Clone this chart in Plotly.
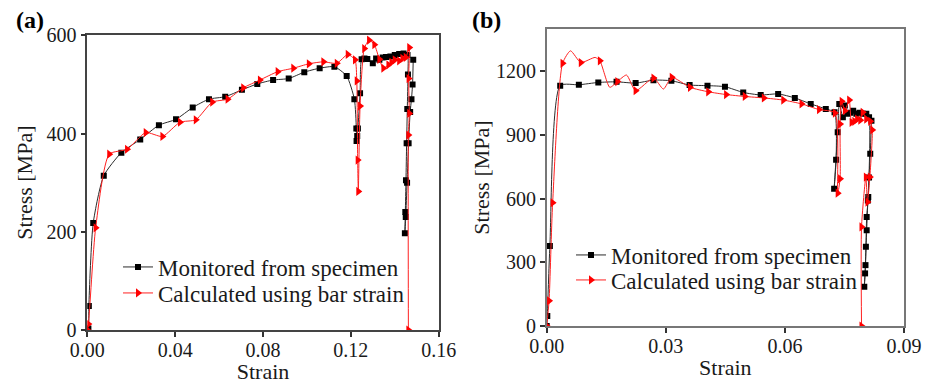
import plotly.graph_objects as go

# ---------------- Panel (a) ----------------
mon_a_x = [0.0000, 0.0005, 0.0007, 0.0027, 0.0075, 0.0155, 0.0241, 0.0326, 0.0404, 0.0480,
           0.0554, 0.0628, 0.0704, 0.0774, 0.0846, 0.0917, 0.0988, 0.1058, 0.1125, 0.1181,
           0.1216, 0.1225, 0.1226, 0.1229, 0.1232, 0.1242, 0.1249, 0.1262, 0.1275, 0.1300,
           0.1315, 0.1330, 0.1345, 0.1360, 0.1380, 0.1400, 0.1420, 0.1440, 0.1458, 0.1460,
           0.1457, 0.1454, 0.1451, 0.1448, 0.1446, 0.1450, 0.1456, 0.1463, 0.1470, 0.1476,
           0.1481, 0.1484]
mon_a_y = [0, 3, 49, 218, 314, 361, 388, 417, 429, 453,
           470, 475, 489, 501, 509, 512, 525, 533, 536, 517,
           470, 410, 385, 395, 410, 482, 551, 553, 552, 543,
           553, 550, 555, 556, 557, 560, 562, 563, 560, 520,
           450, 380, 305, 240, 197, 230, 300, 380, 444, 470,
           500, 550]

calc_a_x = [0.0000, 0.0005, 0.0038, 0.0100, 0.0181, 0.0266, 0.0342, 0.0422, 0.0494, 0.0569,
            0.0639, 0.0710, 0.0786, 0.0867, 0.0938, 0.1009, 0.1075, 0.1136, 0.1186, 0.1219,
            0.1227, 0.1231, 0.1234, 0.1242, 0.1261, 0.1283, 0.1307, 0.1330, 0.1348, 0.1371,
            0.1385, 0.1400, 0.1420, 0.1435, 0.1450, 0.1466, 0.1463, 0.1466, 0.1462, 0.1462]
calc_a_y = [0, 12, 208, 358, 368, 402, 394, 423, 428, 464,
            470, 493, 509, 526, 533, 542, 546, 543, 561, 550,
            507, 346, 282, 456, 573, 590, 581, 551, 533, 540,
            545, 550, 548, 553, 555, 575, 512, 441, 397, 0]

# ---------------- Panel (b) ----------------
mon_b_x = [0.0000, 0.00015, 0.0008, 0.0034, 0.0081, 0.0130, 0.0176, 0.0224, 0.0269, 0.0314,
           0.0360, 0.0405, 0.0449, 0.0495, 0.0539, 0.0583, 0.0625, 0.0665, 0.0703, 0.0725,
           0.0729, 0.0724, 0.0733, 0.0737, 0.0746, 0.0751, 0.0758, 0.0765, 0.0772, 0.0780,
           0.0788, 0.0797, 0.0805, 0.0812, 0.0810, 0.0806, 0.0804, 0.0802, 0.0800, 0.0803,
           0.0806, 0.0809, 0.0812, 0.0815, 0.0818]
mon_b_y = [0, 47, 377, 1133, 1137, 1148, 1151, 1145, 1159, 1156,
           1136, 1133, 1128, 1101, 1089, 1094, 1075, 1047, 1023, 1007,
           784, 647, 913, 1047, 984, 1039, 1000, 1005, 1015, 1000,
           1005, 1000, 1000, 984, 608, 514, 373, 248, 185, 287,
           451, 592, 700, 812, 968]

# marked points of the calculated curve (b)
calc_b_x = [0.0000, 0.0006, 0.0015, 0.0040, 0.0086, 0.0134, 0.0178, 0.0224, 0.0269, 0.0315,
            0.0361, 0.0407, 0.0452, 0.0499, 0.0547, 0.0596, 0.0642, 0.0686, 0.0726, 0.0733,
            0.0739, 0.0739, 0.0743, 0.0751, 0.0762, 0.0768, 0.0775, 0.0782, 0.0790, 0.0796,
            0.0805, 0.0815, 0.0820, 0.0814, 0.0808, 0.0804, 0.0793, 0.0793]
calc_b_y = [0, 119, 581, 1238, 1242, 1250, 1152, 1109, 1169, 1172,
            1125, 1104, 1091, 1082, 1075, 1065, 1047, 1020, 1004, 626,
            694, 952, 1059, 1015, 1065, 960, 965, 975, 970, 1007,
            975, 965, 924, 702, 584, 702, 467, 0]
# full traced path of the calculated curve (b), including unmarked oscillation peaks
calc_b_path_x = [0.0000, 0.0006, 0.0015, 0.0040, 0.0060, 0.0086, 0.0122, 0.0134, 0.0159, 0.0178,
                 0.0201, 0.0224, 0.0269, 0.0294, 0.0315, 0.0361, 0.0407, 0.0452, 0.0499, 0.0547,
                 0.0596, 0.0642, 0.0686, 0.0726, 0.0733, 0.0739, 0.0739, 0.0743, 0.0751, 0.0762,
                 0.0768, 0.0775, 0.0782, 0.0790, 0.0796, 0.0805, 0.0815, 0.0820, 0.0814, 0.0808,
                 0.0804, 0.0793, 0.0793]
calc_b_path_y = [0, 119, 581, 1238, 1297, 1242, 1266, 1250, 1125, 1152,
                 1183, 1109, 1169, 1117, 1172, 1125, 1104, 1091, 1082, 1075,
                 1065, 1047, 1020, 1004, 626, 694, 952, 1059, 1015, 1065,
                 960, 965, 975, 970, 1007, 975, 965, 924, 702, 584,
                 702, 467, 0]

labels = ["Monitored from specimen", "Calculated using bar strain"]
xticks_a = [0.00, 0.04, 0.08, 0.12, 0.16]
yticks_a = [0, 200, 400, 600]
xticks_b = [0.00, 0.03, 0.06, 0.09]
yticks_b = [0, 300, 600, 900, 1200]

FONT = "Liberation Serif"
OFF = 8                      # page body margin
W, H = 934 - OFF, 384 - OFF


def px(x):
    return (x - OFF) / W


def py(y):
    return 1 - (y - OFF) / H


BLACK_LINE = dict(color="#2b2b2b", width=1, shape="spline", smoothing=0.6)
BLACK_MARK = dict(symbol="square", size=6, color="black")
RED_LINE = dict(color="#ff2020", width=1, shape="spline", smoothing=0.6)
RED_MARK = dict(symbol="triangle-right", size=8, color="#ff0000")

fig = go.Figure()


def add_series(lx, ly, mx, my, xa, ya, line, mark, name, leg):
    fig.add_trace(go.Scatter(x=lx, y=ly, mode="lines", xaxis=xa, yaxis=ya,
                             line=line, showlegend=False, hoverinfo="skip"))
    fig.add_trace(go.Scatter(x=mx, y=my, mode="markers", xaxis=xa, yaxis=ya,
                             marker=mark, showlegend=False))
    # legend entry (line + marker sample)
    fig.add_trace(go.Scatter(x=[None], y=[None], mode="lines+markers", name=name,
                             xaxis=xa, yaxis=ya, line=line, marker=mark,
                             legend=leg, showlegend=True))


add_series(mon_a_x, mon_a_y, mon_a_x, mon_a_y, "x", "y", BLACK_LINE, BLACK_MARK, labels[0], "legend")
add_series(calc_a_x, calc_a_y, calc_a_x, calc_a_y, "x", "y", RED_LINE, RED_MARK, labels[1], "legend2")
add_series(mon_b_x, mon_b_y, mon_b_x, mon_b_y, "x2", "y2", BLACK_LINE, BLACK_MARK, labels[0], "legend3")
add_series(calc_b_path_x, calc_b_path_y, calc_b_x, calc_b_y, "x2", "y2", RED_LINE, RED_MARK, labels[1], "legend4")


def axis(domain, anchor, rng, ticks, fmt, title, color, standoff, lblstand=0):
    return dict(domain=domain, anchor=anchor, range=rng, tickvals=ticks,
                ticktext=[fmt.format(t) for t in ticks], automargin=False,
                showgrid=False, zeroline=False, showline=True, mirror=True,
                linecolor=color, linewidth=1.5, ticks="outside", ticklen=5,
                tickwidth=1.5, tickcolor="#333", ticklabelstandoff=lblstand,
                tickfont=dict(family=FONT, size=20, color="#1a1a1a"),
                title=dict(text=title, font=dict(family=FONT, size=22, color="#1a1a1a"),
                           standoff=standoff))


def leg(x, yc):
    return dict(x=px(x), y=py(yc), xanchor="left", yanchor="middle",
                bgcolor="rgba(0,0,0,0)", borderwidth=0, visible=True,
                font=dict(family=FONT, size=23, color="#1a1a1a"), itemwidth=30)


fig.update_layout(
    width=W, height=H, margin=dict(l=0, r=0, t=0, b=0, autoexpand=False),
    paper_bgcolor="white", plot_bgcolor="white", showlegend=True,
    xaxis=axis([px(87.3), px(438.7)], "y", [0, 0.16], xticks_a, "{:.2f}", "Strain", "#444", 4, -4),
    yaxis=axis([py(330), py(35.3)], "x", [0, 600], yticks_a, "{:.0f}", "Stress [MPa]", "#444", 8),
    xaxis2=axis([px(546.7), px(904)], "y2", [0, 0.09], xticks_b, "{:.2f}", "Strain", "#777", 4, -4),
    yaxis2=axis([py(326), py(29)], "x2", [0, 1400], yticks_b, "{:.0f}", "Stress [MPa]", "#777", 0),
    legend=leg(118, 267),
    legend2=leg(118, 293),
    legend3=leg(571, 255),
    legend4=leg(571, 280),
    annotations=[
        dict(text="<b>(a)</b>", x=px(14), y=py(20), xref="paper", yref="paper",
             xanchor="left", yanchor="middle", showarrow=False,
             font=dict(family=FONT, size=24, color="black")),
        dict(text="<b>(b)</b>", x=px(470), y=py(20), xref="paper", yref="paper",
             xanchor="left", yanchor="middle", showarrow=False,
             font=dict(family=FONT, size=24, color="black")),
    ],
)

fig.write_html("out.html")
